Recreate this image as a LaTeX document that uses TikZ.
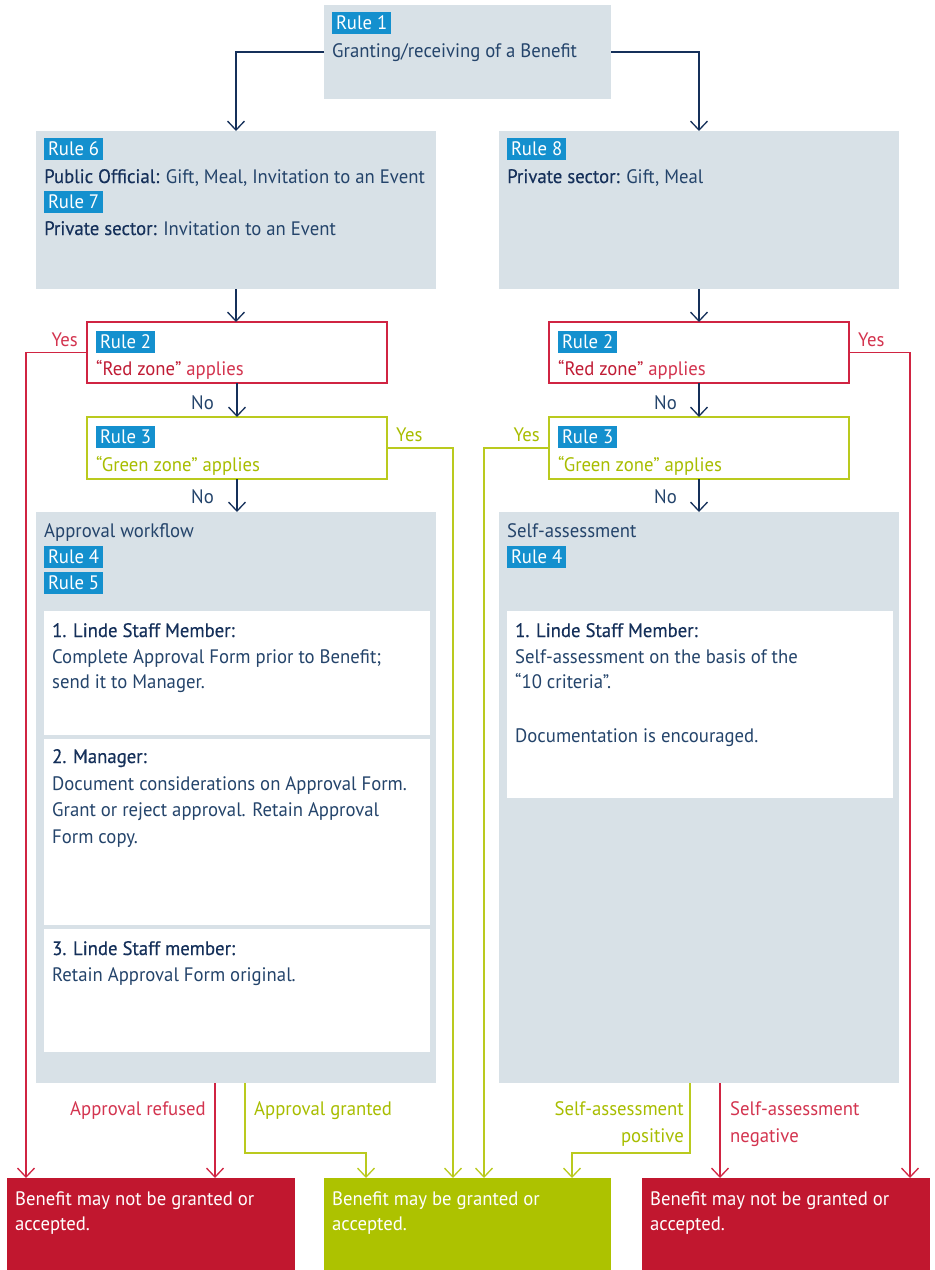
\documentclass[tikz,border=0pt]{standalone}
\usepackage{fontspec}
\setmainfont[FakeStretch=0.96]{PT Sans}
\newfontfamily\medfont[FakeStretch=0.96,FakeBold=0.35]{PT Sans}
\usetikzlibrary{arrows.meta,calc}
\definecolor{greybg}{HTML}{D8E1E7}
\definecolor{navy}{HTML}{24446B}
\definecolor{navydk}{HTML}{15305A}
\definecolor{ruleblue}{HTML}{1490CE}
\definecolor{redbox}{HTML}{C1172F}
\definecolor{redline}{HTML}{D02442}
\definecolor{redtxt}{HTML}{D3344F}
\definecolor{redtxtdk}{HTML}{C01C35}
\definecolor{greenbox}{HTML}{ADC200}
\definecolor{greenline}{HTML}{BACA1E}
\definecolor{greentxt}{HTML}{A8BD00}
\begin{document}
\begin{tikzpicture}[x=1pt,y=-1pt,
  font=\fontsize{19.5}{26}\selectfont,
  greybox/.style={fill=greybg,draw=none,inner sep=0pt,outer sep=0pt,anchor=north west},
  whitebox/.style={fill=white,draw=none,inner sep=0pt,outer sep=0pt,anchor=north west},
  redframe/.style={fill=white,draw=redline,line width=1.4pt,inner sep=0pt,outer sep=0pt,anchor=north west,minimum width=300pt},
  greenframe/.style={fill=white,draw=greenline,line width=1.4pt,inner sep=0pt,outer sep=0pt,anchor=north west,minimum width=300pt},
  endbox/.style={draw=none,inner sep=0pt,outer sep=0pt,anchor=north west,minimum height=92pt},
  txt/.style={anchor=base west,inner sep=0pt,text=navy},
  head/.style={anchor=base west,inner sep=0pt,text=navydk,font=\fontsize{19.5}{26}\medfont},
  wtxt/.style={anchor=base west,inner sep=0pt,text=white},
  rulelab/.style={anchor=north west,fill=ruleblue,text=white,inner xsep=4pt,inner ysep=0pt,text height=17pt,text depth=5pt,outer sep=0pt},
  lab/.style={inner sep=0pt},
  tip/.style={-{Straight Barb[length=9pt,width=17pt,line width=1.3pt]}},
  navyc/.style={draw=navydk,line width=1.3pt,tip},
  redc/.style={draw=redline,line width=1.3pt,tip},
  greenc/.style={draw=greenline,line width=1.3pt,tip}
]
\useasboundingbox (0,0) rectangle (935,1270);

% ---------- boxes ----------
\node[greybox,minimum width=287pt,minimum height=94pt] (r1) at (324,5) {};
\node[greybox,minimum width=400pt,minimum height=158pt] (b6) at (36,131) {};
\node[greybox,minimum width=400pt,minimum height=158pt] (b8) at (499,131) {};
\node[redframe,minimum height=61pt] (red1) at (87,322) {};
\node[greenframe,minimum height=62pt] (green1) at (87,417) {};
\node[redframe,minimum height=61pt] (red2) at (549,322) {};
\node[greenframe,minimum height=62pt] (green2) at (549,417) {};
\node[greybox,minimum width=400pt,minimum height=571pt] (aw) at (36,512) {};
\node[greybox,minimum width=400pt,minimum height=571pt] (sa) at (499,512) {};
\node[whitebox,minimum width=386pt,minimum height=124pt] (w1) at (44,611) {};
\node[whitebox,minimum width=386pt,minimum height=186pt] (w2) at (44,739) {};
\node[whitebox,minimum width=386pt,minimum height=123pt] (w3) at (44,929) {};
\node[whitebox,minimum width=386pt,minimum height=187pt] (w4) at (507,611) {};
\node[endbox,fill=redbox,minimum width=288pt] (nbL) at (7,1178) {};
\node[endbox,fill=greenbox,minimum width=287pt] (ok) at (324,1178) {};
\node[endbox,fill=redbox,minimum width=288pt] (nbR) at (642,1178) {};

% ---------- texts ----------
\node[rulelab] (l1) at (332,12) {Rule 1};
\node[txt] (t1) at (332,57) {Granting/receiving of a Benefit};

\node[rulelab] (l6) at (44,138) {Rule 6};
\node[txt] (t6) at (44,183) {{\medfont\color{navydk}Public Official:} Gift, Meal, Invitation to an Event};
\node[rulelab] (l7) at (44,191) {Rule 7};
\node[txt] (t7) at (44,235) {{\medfont\color{navydk}Private sector:} Invitation to an Event};

\node[rulelab] (l8) at (507,138) {Rule 8};
\node[txt] (t8) at (507,183) {{\medfont\color{navydk}Private sector:} Gift, Meal};

\node[rulelab] (l2a) at (96,331) {Rule 2};
\node[txt,text=redtxt] (t2a) at (96,375) {{\color{redtxtdk}“Red zone”} applies};
\node[rulelab] (l3a) at (96,426) {Rule 3};
\node[txt,text=greentxt] (t3a) at (96,471) {“Green zone” applies};
\node[rulelab] (l2b) at (558,331) {Rule 2};
\node[txt,text=redtxt] (t2b) at (558,375) {{\color{redtxtdk}“Red zone”} applies};
\node[rulelab] (l3b) at (558,426) {Rule 3};
\node[txt,text=greentxt] (t3b) at (558,471) {“Green zone” applies};

\node[txt] (taw) at (44,537) {Approval workflow};
\node[rulelab] (l4a) at (44,546) {Rule 4};
\node[rulelab] (l5a) at (44,572) {Rule 5};
\node[head] (h1) at (52,637) {1. Linde Staff Member:};
\node[txt] (h1a) at (52,663) {Complete Approval Form prior to Benefit;};
\node[txt] (h1b) at (52,688) {send it to Manager.};
\node[head] (h2) at (52,763) {2. Manager:};
\node[txt] (h2a) at (52,790) {Document considerations on Approval Form.};
\node[txt] (h2b) at (52,816) {Grant or reject approval. Retain Approval};
\node[txt] (h2c) at (52,843) {Form copy.};
\node[head] (h3) at (52,955) {3. Linde Staff member:};
\node[txt] (h3a) at (52,981) {Retain Approval Form original.};

\node[txt] (tsa) at (507,537) {Self-assessment};
\node[rulelab] (l4b) at (507,546) {Rule 4};
\node[head] (h4) at (515,637) {1. Linde Staff Member:};
\node[txt] (h4a) at (515,663) {Self-assessment on the basis of the};
\node[txt] (h4b) at (515,688) {“10 criteria”.};
\node[txt] (h4c) at (515,742) {Documentation is encouraged.};

\node[wtxt] (e1a) at (15,1205) {Benefit may not be granted or};
\node[wtxt] (e1b) at (15,1230) {accepted.};
\node[wtxt] (e2a) at (332,1205) {Benefit may be granted or};
\node[wtxt] (e2b) at (332,1230) {accepted.};
\node[wtxt] (e3a) at (650,1205) {Benefit may not be granted or};
\node[wtxt] (e3b) at (650,1230) {accepted.};

% ---------- connector labels ----------
\node[lab,anchor=base east,text=redtxt] (y1) at (78,346) {Yes};
\node[lab,anchor=base east,text=navy] (n1) at (214,409) {No};
\node[lab,anchor=base east,text=navy] (n2) at (214,503) {No};
\node[lab,anchor=base west,text=greentxt] (y2) at (396,441) {Yes};
\node[lab,anchor=base west,text=redtxt] (y3) at (858,346) {Yes};
\node[lab,anchor=base east,text=greentxt] (y4) at (540,441) {Yes};
\node[lab,anchor=base east,text=navy] (n3) at (677,409) {No};
\node[lab,anchor=base east,text=navy] (n4) at (677,503) {No};
\node[lab,anchor=base east,text=redtxt] (ar) at (206,1115) {Approval refused};
\node[lab,anchor=base west,text=greentxt] (ag) at (254,1115) {Approval granted};
\node[lab,anchor=base east,text=greentxt] (sp1) at (684,1115) {Self-assessment};
\node[lab,anchor=base east,text=greentxt] (sp2) at (684,1142) {positive};
\node[lab,anchor=base west,text=redtxt] (sn1) at (730,1115) {Self-assessment};
\node[lab,anchor=base west,text=redtxt] (sn2) at (730,1142) {negative};

% ---------- connectors ----------
\draw[navyc] (r1.west) -| (b6.north);
\draw[navyc] (r1.east) -| (b8.north);
\draw[navyc] (b6.south) -- (b6.south |- red1.north);
\draw[navyc] (b8.south) -- (b8.south |- red2.north);
\draw[navyc] (red1.south) -- (green1.north);
\draw[navyc] (red2.south) -- (green2.north);
\draw[navyc] (green1.south) -- (green1.south |- aw.north);
\draw[navyc] (green2.south) -- (green2.south |- sa.north);

\draw[redc] (red1.west) -| ([xshift=19pt]nbL.north west);
\draw[redc] (red2.east) -| ([xshift=-20pt]nbR.north east);
\draw[greenc] (green1.east) -| ([xshift=129pt]ok.north west);
\draw[greenc] (green2.west) -| ([xshift=160pt]ok.north west);

\draw[redc] ([xshift=-21pt]aw.south) -- ([xshift=-21pt]aw.south |- nbL.north);
\draw[greenc] ([xshift=9pt]aw.south) |- ([xshift=42pt,yshift=25pt]ok.north west) -- ([xshift=42pt]ok.north west);
\draw[greenc] ([xshift=-9pt]sa.south) |- ([xshift=248pt,yshift=25pt]ok.north west) -- ([xshift=248pt]ok.north west);
\draw[redc] ([xshift=21pt]sa.south) -- ([xshift=21pt]sa.south |- nbR.north);
\end{tikzpicture}
\end{document}
